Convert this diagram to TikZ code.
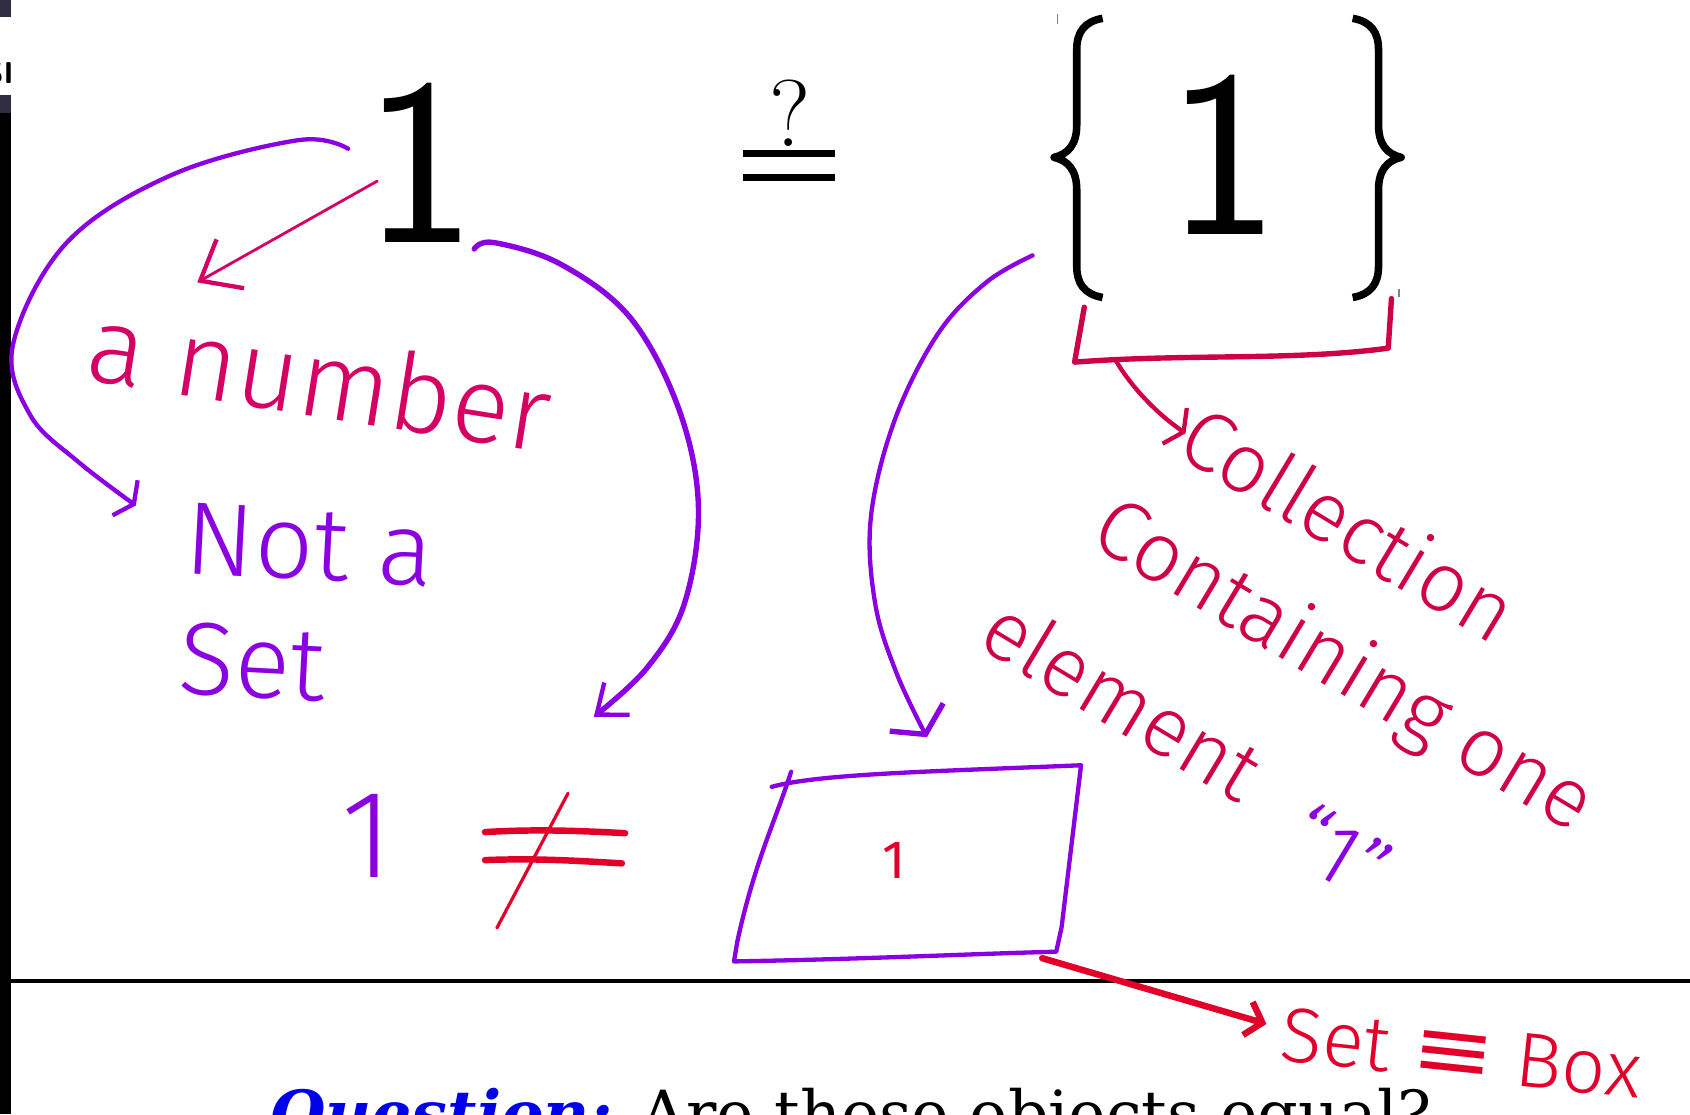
\documentclass[tikz,border=0pt]{standalone}
\usepackage{fontspec}
\usepackage{graphicx}
\usetikzlibrary{arrows.meta}
\newfontfamily\hand{Fira Sans Light}
\newfontfamily\handreg{Fira Sans}
\newfontfamily\symfont{DejaVu Sans}
\newfontfamily\qserif{DejaVu Serif}
\definecolor{hpurple}{RGB}{138,0,224}
\definecolor{hpink}{RGB}{214,0,100}
\definecolor{hcrim}{RGB}{208,0,72}
\definecolor{hred}{RGB}{226,0,42}
\definecolor{qblue}{RGB}{0,0,235}
\definecolor{bardark}{RGB}{48,44,66}
\newcommand{\hsz}[1]{\fontsize{#1}{#1}\selectfont}
\tikzset{
  hw/.style={line cap=round, line join=round},
  purplestroke/.style={hw, draw=hpurple},
  pinkstroke/.style={hw, draw=hpink},
  crimstroke/.style={hw, draw=hcrim},
  redstroke/.style={hw, draw=hred},
  handtext/.style={inner sep=0pt, outer sep=0pt},
  bracestroke/.style={draw=black, line width=3.5pt, line cap=butt, line join=round},
}
\begin{document}
\begin{tikzpicture}[x=0.5pt,y=-0.5pt]
\useasboundingbox (0,0) rectangle (1568,1034);
\clip (0,0) rectangle (1568,1034);
\fill[white] (0,0) rectangle (1568,1034);

% left window edge
\fill[bardark] (0,0) rectangle (10,16);
\fill[bardark] (0,88) rectangle (10,105);
\fill[black] (0,105) rectangle (10,1034);
\node[anchor=east, inner sep=0pt, font=\sffamily\bfseries\hsz{14}] (si) at (13,68) {SI};

% separator line
\draw[line width=2pt] (10,910) -- (1568,910);

% top formula
\node[anchor=base, inner sep=0pt, font=\sffamily\hsz{110}] (one) at (390,225) {1};
\node[anchor=base, inner sep=0pt, font=\hsz{44}] (qm) at (733,136) {?};
\fill[black] (689,139) rectangle (775,146);
\fill[black] (689,161) rectangle (775,168);
\node[anchor=base, inner sep=0pt, font=\sffamily\hsz{110}] (setone) at (1135,218) {1};
% braces
\draw[bracestroke] (1023,17) .. controls (1006,20) and (999,30) .. (999,46) -- (999,116)
  .. controls (999,134) and (991,143) .. (978,146)
  .. controls (991,149) and (999,158) .. (999,176) -- (999,247)
  .. controls (999,263) and (1006,273) .. (1023,276);
\draw[bracestroke] (1255,17) .. controls (1272,20) and (1279,30) .. (1279,46) -- (1279,116)
  .. controls (1279,134) and (1287,143) .. (1300,146)
  .. controls (1287,149) and (1279,158) .. (1279,176) -- (1279,247)
  .. controls (1279,263) and (1272,273) .. (1255,276);
\draw[gray, line width=0.5pt] (981,13) -- (981,22);
\draw[gray, line width=0.5pt] (1298,268) -- (1298,276);

% handwritten texts
\node[handtext, text=hpink, rotate=-9, font=\hand\hsz{50}] (num) at (297,350) {a number};
\node[handtext, text=hpurple, rotate=-3, align=left, anchor=north west,
      font=\hand\hsz{48}] (notset) at (174,466) {Not a\\[8pt]Set};
\node[handtext, text=hcrim, rotate=-31, font=\hand\hsz{39}] (coll) at (1252,485) {Collection};
\node[handtext, text=hcrim, rotate=-31, font=\hand\hsz{39}] (cont) at (1245,620) {Containing one};
\node[handtext, text=hcrim, rotate=-31, font=\hand\hsz{39}] (elem) at (1042,648) {element};
\node[handtext, text=hpurple, rotate=-31, font=\hand\hsz{40}] (quote) at (1243,790) {“1”};
\node[handtext, text=hred, rotate=-6, font=\hand\hsz{36}] (setbox) at (1356,977)
  {Set {\symfont\hsz{46}\scalebox{1}[0.85]{≡}} Box};

% bottom row
\node[handtext, text=hpurple, font=\hand\hsz{58}] (lone) at (341,776) {1};
\draw[redstroke, line width=3pt] (450,772) .. controls (500,769) and (540,771) .. (580,773);
\draw[redstroke, line width=3pt] (450,798) .. controls (500,796) and (540,799) .. (577,801);
\draw[redstroke, line width=1.5pt] (527,736) -- (461,861);
\draw[purplestroke, line width=2pt]
  (716,730) .. controls (760,718) and (860,716) .. (1003,710)
  -- (985,860) -- (980,883)
  .. controls (900,885) and (800,890) .. (681,892)
  -- (684,874) .. controls (700,800) and (720,760) .. (734,716);
\coordinate (boxtop) at (860,684);
\coordinate (boxcorner) at (967,889);
\node[handtext, text=hred, font=\handreg\hsz{25}] (bone) at (830,798) {1};

% connectors
\coordinate (aS) at (350,168);
\coordinate (aE) at (183,262);
\draw[pinkstroke, line width=1.3pt, -{Straight Barb[length=16pt,width=26pt,line width=2pt]}] (aS) -- (aE);

\coordinate (bS) at (323,138);
\coordinate (bE) at (126,469);
\draw[purplestroke, line width=2pt, -{Straight Barb[length=5pt,width=20pt]}]
  plot[smooth, tension=0.6] coordinates {(bS) (277,130) (160,162) (62,225) (12,320) (28,385) (72,428) (bE)};

\coordinate (cS) at (440,231);
\coordinate (cE) at (551,665);
\draw[purplestroke, line width=2.5pt, -{Straight Barb[length=12pt,width=19pt,line width=2pt]}]
  plot[smooth, tension=0.6] coordinates {(cS) (458,225) (520,245) (585,295) (630,380) (648,470) (635,560) (600,620) (cE)};

\coordinate (dS) at (958,237);
\draw[purplestroke, line width=2pt, -{Straight Barb[length=9pt,width=28pt,line width=2.5pt]}]
  plot[smooth, tension=0.6] coordinates {(dS) (915,262) (870,310) (830,390) (808,480) (812,560) (832,625) (boxtop)};

\draw[crimstroke, line width=2.5pt] (1006,285) -- (997,336) .. controls (1100,328) and (1200,335) .. (1288,323) -- (1291,277);
\coordinate (eS) at (1035,334);
\coordinate (eE) at (1100,402);
\draw[crimstroke, line width=2pt, -{Straight Barb[length=5pt,width=20pt]}] (eS) .. controls (1050,360) and (1075,385) .. (eE);

\coordinate (fE) at (1175,950);
\draw[redstroke, line width=3pt, -{Straight Barb[length=7pt,width=16pt]}] (boxcorner) -- (fE);

% question line
\node[anchor=base west, inner sep=0pt, font=\qserif\hsz{29.5}] (question) at (250,1054)
  {\textcolor{qblue}{\bfseries\itshape Question:} Are those objects equal?};
\end{tikzpicture}
\end{document}
